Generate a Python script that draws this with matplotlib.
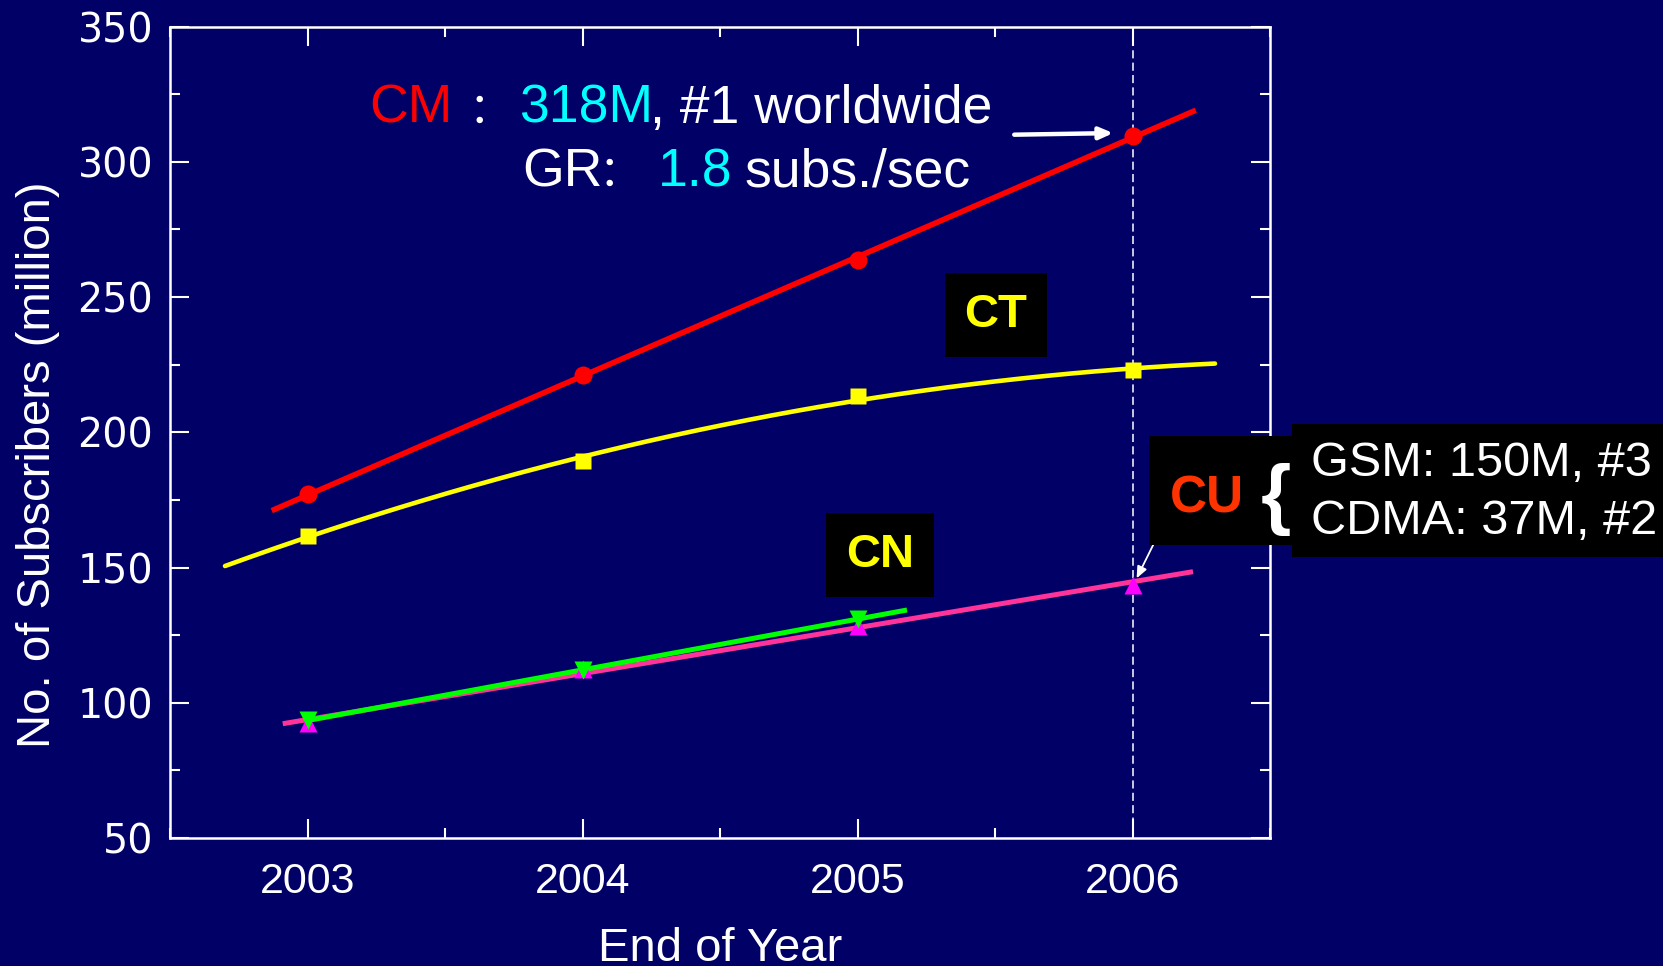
import numpy as np
import matplotlib
matplotlib.use("Agg")
import matplotlib.pyplot as plt
from matplotlib.patches import Rectangle

# ---------------- data ----------------
years = [2003, 2004, 2005, 2006]
cm_vals = [177.0, 221.0, 263.7, 309.6]
ct_vals = [161.8, 189.2, 213.5, 223.0]
cn_years = [2003, 2004, 2005]
cn_vals = [93.5, 112.0, 131.0]
cu_vals = [92.4, 112.5, 128.4, 143.7]
xticks = [2003, 2004, 2005, 2006]
yticks = [50, 100, 150, 200, 250, 300, 350]

ARIAL = 'Liberation Sans'
plt.rcParams['font.family'] = [ARIAL, 'DejaVu Sans']

BG = '#000066'
fig = plt.figure(figsize=(16.63, 9.66), dpi=100, facecolor=BG)
ax = fig.add_axes([170/1663, 1-838/966, 1100/1663, (838-26.5)/966])
ax.set_facecolor(BG)

# fitted curves
def fit_line(xs, ys, deg, x0, x1):
    p = np.polyfit(xs, ys, deg)
    xx = np.linspace(x0, x1, 200)
    return xx, np.polyval(p, xx)

xx, yy = fit_line(years, cu_vals, 1, 2002.91, 2006.22)
ax.plot(xx, yy, color='#FF3399', lw=3.6, zorder=3, solid_capstyle='butt')
xx, yy = fit_line(cn_years, cn_vals, 1, 2003.0, 2005.18)
ax.plot(xx, yy, color='#00FF00', lw=3.6, zorder=4, solid_capstyle='butt')
xx, yy = fit_line(years, ct_vals, 2, 2002.7, 2006.3)
ax.plot(xx, yy, color='#FFFF00', lw=3.3, zorder=3, solid_capstyle='round')
xx, yy = fit_line(years, cm_vals, 1, 2002.87, 2006.23)
ax.plot(xx, yy, color='#FF0000', lw=4.0, zorder=3, solid_capstyle='butt')

ax.plot(years, cu_vals, ls='none', marker='^', color='#FF00FF', ms=13, mec='none', zorder=5)
ax.plot(cn_years, cn_vals, ls='none', marker='v', color='#00FF00', ms=13, mec='none', zorder=5)
ax.plot(years, ct_vals, ls='none', marker='s', color='#FFFF00', ms=11.5, mec='none', zorder=5)
ax.plot(years, cm_vals, ls='none', marker='o', color='#FF0000', ms=13, mec='none', zorder=5)

# dashed vertical line at 2006
ax.axvline(2006, color='white', lw=1.1, ls=(0, (5.3, 2.8)), zorder=2)

# axes styling
ax.set_xlim(2002.5, 2006.5)
ax.set_ylim(50, 350)
ax.set_xticks(xticks, labels=[str(v) for v in xticks], fontfamily=ARIAL, fontsize=31, color='white')
ax.set_xticks([2002.5, 2003.5, 2004.5, 2005.5, 2006.5], minor=True)
ax.set_yticks(yticks, labels=[str(v) for v in yticks], fontfamily='DejaVu Sans', fontsize=28.5, color='white')
ax.set_yticks([75, 125, 175, 225, 275, 325], minor=True)
for sp in ax.spines.values():
    sp.set_color('white')
    sp.set_linewidth(1.8)
ax.tick_params(which='both', direction='in', colors='white', top=True, right=True, width=1.5)
ax.tick_params(which='major', length=14)
ax.tick_params(which='minor', length=7)
ax.tick_params(axis='y', which='major', pad=12)
ax.tick_params(axis='x', which='major', pad=17)

ax.set_xlabel('End of Year', color='white', fontsize=34, family=ARIAL, labelpad=18)
ax.set_ylabel('No. of Subscribers (million)', color='white', fontsize=34, family=ARIAL)
ax.yaxis.set_label_coords(-0.1, 0.46)

# ---------------- annotations ----------------
fs = 38.5
y1, y2 = 314.5, 291.0
ax.text(2003.223, y1, 'CM', color='#FF0000', fontsize=fs, family=ARIAL, va='baseline')
ax.text(2003.585, y1, '：', color='white', fontsize=fs * 0.8, family=['Noto Sans CJK SC', ARIAL], va='baseline')
ax.text(2003.77, y1, '318M', color='#00FFFF', fontsize=fs, family=ARIAL, va='baseline')
ax.text(2004.245, y1, ', #1 worldwide', color='white', fontsize=fs, family=ARIAL, va='baseline')

ax.text(2003.78, y2, 'GR', color='white', fontsize=fs, family=ARIAL, va='baseline')
ax.text(2004.06, y2, '：', color='white', fontsize=fs * 0.8, family=['Noto Sans CJK SC', ARIAL], va='baseline')
ax.text(2004.275, y2, '1.8', color='#00FFFF', fontsize=fs, family=ARIAL, va='baseline')
ax.text(2004.59, y2, 'subs./sec', color='white', fontsize=fs, family=ARIAL, va='baseline')

ax.annotate('', xy=(2005.93, 310.6), xytext=(2005.57, 310.0),
            arrowprops=dict(arrowstyle='-|>,head_length=0.8,head_width=0.35', color='white', lw=3.2,
                            shrinkA=0, shrinkB=0), zorder=6)

box = dict(boxstyle='square,pad=0.42', fc='black', ec='none')
ax.text(2005.503, 243.3, 'CT', color='#FFFF00', fontsize=34, fontweight='bold', family=ARIAL,
        ha='center', va='center', bbox=box, zorder=6)
ax.text(2005.083, 154.7, 'CN', color='#FFFF00', fontsize=34, fontweight='bold', family=ARIAL,
        ha='center', va='center', bbox=box, zorder=6)

# CU info boxes (figure coordinates)
W, H = 1663, 966
fig.patches.append(Rectangle((1149/W, 1-545/H), (1292-1149)/W, (545-436)/H,
                             transform=fig.transFigure, fc='black', ec='none', zorder=10))
fig.patches.append(Rectangle((1292/W, 1-557/H), (1663-1292)/W, (557-424)/H,
                             transform=fig.transFigure, fc='black', ec='none', zorder=10))
fig.text(1207/W, 1-499/H, 'CU', color='#FF3300', fontsize=37,
         fontweight='bold', family=ARIAL, ha='center', va='center', zorder=11)
fig.text(1276/W, 1-500/H, '{', color='white', fontsize=56, fontweight='bold', family=ARIAL,
         ha='center', va='center', zorder=11)
fig.text(1311/W, 1-464/H, 'GSM: 150M, #3', color='white', fontsize=35, family=ARIAL,
         ha='left', va='center', zorder=11)
fig.text(1311/W, 1-522/H, 'CDMA: 37M, #2', color='white', fontsize=35, family=ARIAL,
         ha='left', va='center', zorder=11)

ax.annotate('', xy=(2006.015, 146.0), xytext=(2006.11, 165.5),
            arrowprops=dict(arrowstyle='-|>,head_length=0.7,head_width=0.3', color='white', lw=1.3,
                            shrinkA=0, shrinkB=0), zorder=6)

fig.savefig('out.png', dpi=100, facecolor=BG)
